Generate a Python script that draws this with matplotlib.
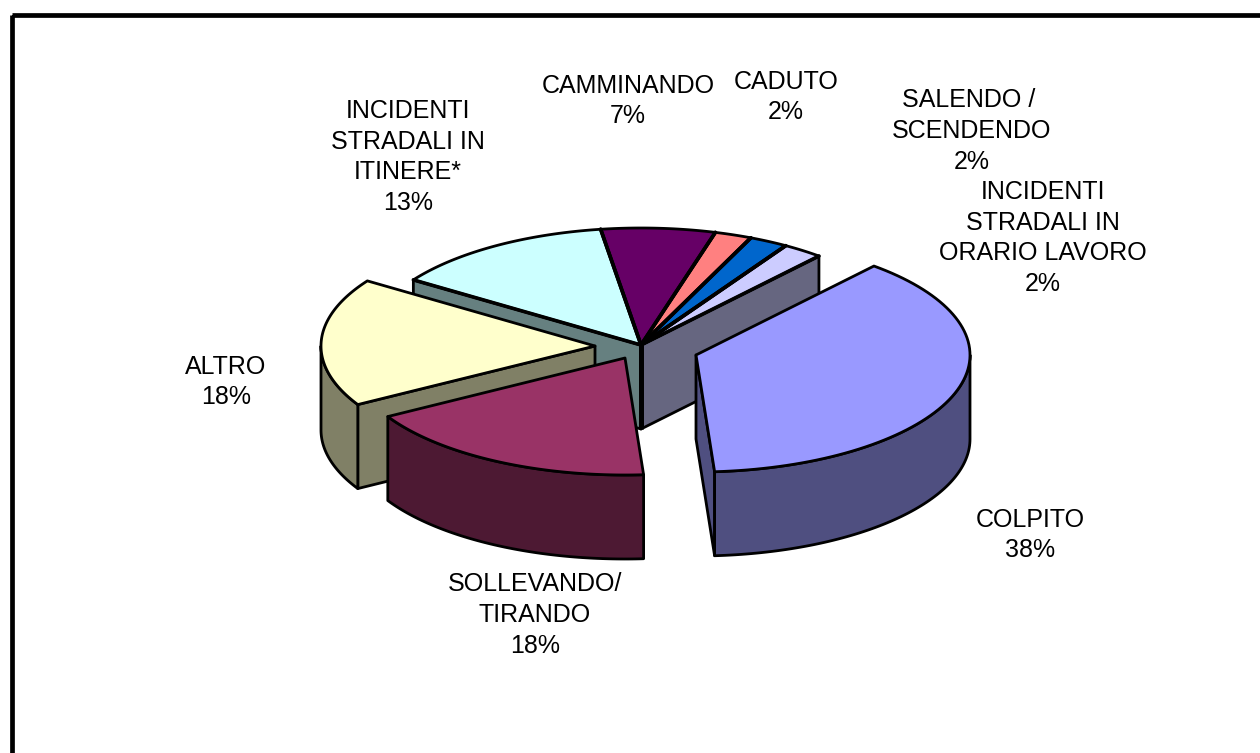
import numpy as np
import matplotlib
matplotlib.use("Agg")
import matplotlib.pyplot as plt
from matplotlib.patches import Polygon, Rectangle

plt.rcParams['font.family'] = ['Liberation Sans', 'DejaVu Sans']

# Data, clockwise from the start angle
labels = ["COLPITO", "SOLLEVANDO/\nTIRANDO", "ALTRO", "INCIDENTI\nSTRADALI IN\nITINERE*",
          "CAMMINANDO", "CADUTO", "SALENDO / \nSCENDENDO", "INCIDENTI\nSTRADALI IN\nORARIO LAVORO"]
values = [37.8, 17.8, 17.8, 13.3, 6.75, 2.2, 2.3, 2.4]
top_colors = ["#9999FF", "#993366", "#FFFFCC", "#CCFFFF", "#660066", "#FF8080", "#0066CC", "#CCCCFF"]
side_colors = ["#4F4F80", "#4D1933", "#808066", "#668080", "#330033", "#804040", "#003366", "#666680"]

# Layout in pixels
start_angle = 49.5
cx, cy = 641, 345
rx, ry = 274, 117
depth = 84
offsets = [(55, 10), (-16, 13), (-46, 1), (0, 0), (0, 0), (0, 0), (0, 0), (0, 0)]
label_pos = [(1030, 535), (535, 615), (226, 382), (408, 157),
             (628, 101), (786, 97), (972, 131), (1043, 238)]
edge = dict(edgecolor="black", linewidth=2.0, joinstyle="round")

fig = plt.figure(figsize=(12.6, 7.53), dpi=100)
ax = fig.add_axes([0, 0, 1, 1])
ax.set_xlim(0, 1260)
ax.set_ylim(753, 0)
ax.axis("off")

# chart frame, runs off the right and bottom of the image
ax.add_patch(Rectangle((12, 15), 1300, 800, fill=False, edgecolor="black", linewidth=3.4))


def rim(ox, oy, a):
    a = np.radians(a)
    return np.column_stack([cx + ox + rx * np.cos(a), cy + oy - ry * np.sin(a)])


def cut_wall(ox, oy, ang, color):
    p = rim(ox, oy, np.array([ang]))[0]
    hub = (cx + ox, cy + oy)
    pts = [hub, p, (p[0], p[1] + depth), (hub[0], hub[1] + depth)]
    ax.add_patch(Polygon(pts, closed=True, facecolor=color, **edge))


sweeps = np.array(values) / sum(values) * 360
ends = start_angle - np.cumsum(sweeps)
starts = ends + sweeps
n = len(values)

# back wedges first, exploded front wedges on top
for i in range(n - 1, -1, -1):
    a1, a2 = starts[i], ends[i]
    ox, oy = offsets[i]
    attached = offsets[i] == (0, 0)
    # a cut face shows only if the neighbour across it has moved away
    if np.cos(np.radians(a1)) < 0 and not (attached and offsets[i - 1] == (0, 0)):
        cut_wall(ox, oy, a1, side_colors[i])
    if np.cos(np.radians(a2)) > 0 and not (attached and offsets[(i + 1) % n] == (0, 0)):
        cut_wall(ox, oy, a2, side_colors[i])
    # outer wall, only the part on the front half of the ellipse
    lo, hi = max(a2, -180), min(a1, 0)
    if hi > lo:
        arc = rim(ox, oy, np.linspace(hi, lo, 80))
        pts = np.vstack([arc, arc[::-1] + [0, depth]])
        ax.add_patch(Polygon(pts, closed=True, facecolor=side_colors[i], **edge))
    arc = rim(ox, oy, np.linspace(a1, a2, 80))
    hub = [cx + ox, cy + oy]
    ax.add_patch(Polygon(np.vstack([hub, arc]), closed=True, facecolor=top_colors[i], **edge))
    if attached:
        # small gaps between the wedges read as heavier spokes
        ax.plot([hub[0], arc[0, 0]], [hub[1], arc[0, 1]], color="black", lw=2.6, solid_capstyle="round")
        ax.plot([hub[0], arc[-1, 0]], [hub[1], arc[-1, 1]], color="black", lw=2.6, solid_capstyle="round")
    # edge-on walls make the thick black seam at the hub
    if i == 3:
        ax.plot([cx, cx], [cy, cy + depth], color="black", lw=3.6, solid_capstyle="butt")

for name, v, (x, y) in zip(labels, values, label_pos):
    ax.text(x, y, f"{name}\n{round(v)}%", ha="center", va="center", fontsize=18,
            linespacing=1.36, color="black")

fig.savefig("out.png", dpi=100)
